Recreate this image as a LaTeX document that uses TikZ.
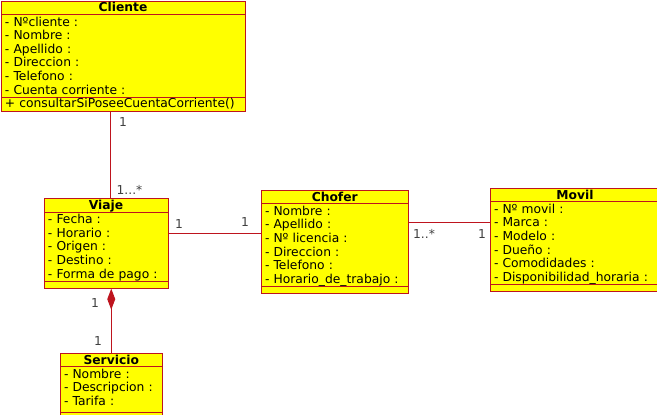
\documentclass[tikz,border=0pt]{standalone}
\usepackage{fontspec}
\setmainfont{DejaVu Sans}
\usepackage{xcolor}
\definecolor{umlyellow}{RGB}{255,255,0}
\definecolor{umlred}{RGB}{190,20,30}
\definecolor{multgray}{gray}{.25}
\usepackage{tikz}
\usetikzlibrary{shapes.multipart}
\usetikzlibrary{arrows.meta}
\newcommand{\umlfont}{\fontsize{12.3}{13.6}\selectfont}
\newcommand{\rowstrut}{\rule[-2.6pt]{0pt}{13.6pt}}
\newcommand{\headstrut}{\rule[-2.2pt]{0pt}{12.7pt}}
\newcommand{\opstrut}{\rule[-3pt]{0pt}{13pt}}
\newcommand{\attr}[1]{\rowstrut- #1 :}
\newcommand{\classname}[1]{\headstrut\hfill\textbf{#1}\hfill\null}
\newcommand{\emptypart}{\rule{0pt}{6pt}}
\tikzset{
    umlclass/.style={draw=umlred, fill=umlyellow, line width=1pt, anchor=north west,
        rectangle split, rectangle split parts=3,
        inner xsep=4pt, inner ysep=0pt, align=left, font=\umlfont},
    assoc/.style={draw=umlred, line width=1pt},
    mult/.style={text=multgray, font=\umlfont, inner sep=0pt},
}

\begin{document}
\begin{tikzpicture}[x=1pt, y=-1pt]
    \useasboundingbox (0,0) rectangle (657,415);
    \clip (0,0) rectangle (657,415);

    \node[umlclass, text width=236pt] (cliente) at (0.5,0.5) {\classname{Cliente}
        \nodepart{two}\attr{Nºcliente}\\\attr{Nombre}\\\attr{Apellido}\\\attr{Direccion}\\\attr{Telefono}\\\attr{Cuenta corriente}
        \nodepart{three}\opstrut+ consultarSiPoseeCuentaCorriente()};
    \node[umlclass, text width=116pt] (viaje) at (43.5,197.5) {\classname{Viaje}
        \nodepart{two}\attr{Fecha}\\\attr{Horario}\\\attr{Origen}\\\attr{Destino}\\\attr{Forma de pago}
        \nodepart{three}\emptypart};
    \node[umlclass, text width=139.5pt] (chofer) at (260.5,189.5) {\classname{Chofer}
        \nodepart{two}\attr{Nombre}\\\attr{Apellido}\\\attr{Nº licencia}\\\attr{Direccion}\\\attr{Telefono}\\\attr{Horario\_de\_trabajo}
        \nodepart{three}\emptypart};
    \node[umlclass, text width=162pt] (movil) at (489.5,187.5) {\classname{Movil}
        \nodepart{two}\attr{Nº movil}\\\attr{Marca}\\\attr{Modelo}\\\attr{Dueño}\\\attr{Comodidades}\\\attr{Disponibilidad\_horaria}
        \nodepart{three}\emptypart};
    \node[umlclass, text width=94.5pt] (servicio) at (59.5,352.5) {\classname{Servicio}
        \nodepart{two}\attr{Nombre}\\\attr{Descripcion}\\\attr{Tarifa}\rule[-6.1pt]{0pt}{0pt}
        \nodepart{three}\emptypart};

    \draw[assoc] ([xshift=4.5pt]viaje.north) -- ([xshift=4.5pt]viaje.north |- cliente.south);
    \draw[assoc] ([yshift=-35.5pt]viaje.north east) -- ([yshift=-35.5pt]viaje.north east -| chofer.west);
    \draw[assoc] ([yshift=-32.5pt]chofer.north east) -- ([yshift=-32.5pt]chofer.north east -| movil.west);
    \draw[assoc, {Diamond[length=21pt, width=8pt, fill=umlred]}-] (viaje.south -| servicio.north) -- (servicio.north); % composicion

    \node[mult] (m-cliente) at (123,122) {1};
    \node[mult] (m-viaje-top) at (129.5,190) {1...*};
    \node[mult] (m-viaje-right) at (179,224) {1};
    \node[mult] (m-chofer-left) at (245,222) {1};
    \node[mult] (m-chofer-right) at (424,234) {1..*};
    \node[mult] (m-movil) at (482,234) {1};
    \node[mult] (m-viaje-bottom) at (95,303) {1};
    \node[mult] (m-servicio) at (98,341) {1};
\end{tikzpicture}
\end{document}
